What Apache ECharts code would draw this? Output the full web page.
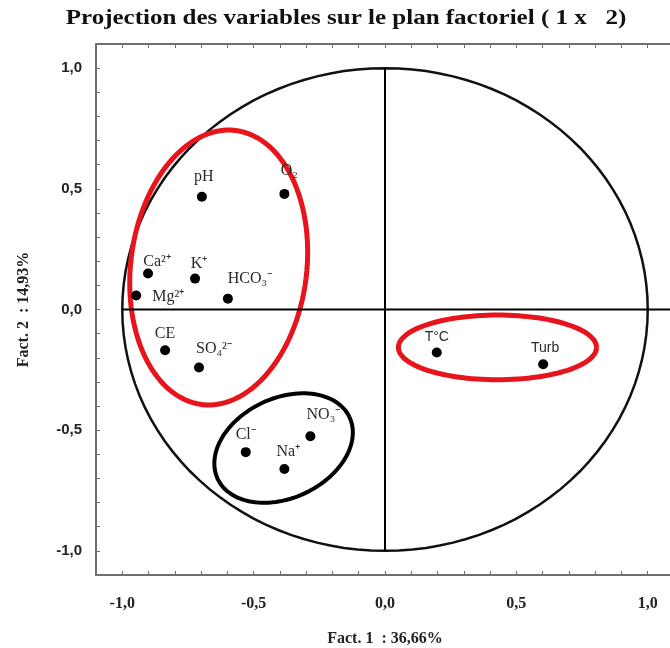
<!DOCTYPE html>
<html>
<head>
<meta charset="utf-8">
<script src="https://cdn.jsdelivr.net/npm/echarts@6/dist/echarts.min.js"></script>
<style>
  html, body { margin: 0; padding: 0; background: #fff; }
  #chart { width: 670px; height: 648px; }
</style>
</head>
<body>
<div id="chart"></div>
<script>
// variables projected on the factorial plane (1 x 2)
const variables = ['pH', 'O₂', 'Ca²⁺', 'K⁺', 'Mg²⁺', 'HCO₃⁻', 'CE', 'SO₄²⁻', 'Cl⁻', 'NO₃⁻', 'Na⁺', 'T°C', 'Turb'];
const fact1 = [-0.697, -0.383, -0.902, -0.723, -0.947, -0.598, -0.837, -0.708, -0.530, -0.284, -0.383, 0.197, 0.602];
const fact2 = [0.467, 0.479, 0.149, 0.128, 0.058, 0.045, -0.169, -0.240, -0.591, -0.525, -0.661, -0.178, -0.227];

// hand-drawn groupings: [centre x, centre y, radius x, radius y, tilt in degrees]
const groups = [
  [-0.633, 0.174, 0.335, 0.572, 7],
  [0.428, -0.157, 0.377, 0.134, 0],
  [-0.386, -0.574, 0.277, 0.207, -25]
];
const groupColors = ['#e8141b', '#e8141b', '#000'];
const correlationCircle = [[0, 0, 1, 1, 0]];

// label placement next to each dot (pixels)
const labelOffsets = [[2, -20], [5, -23], [9, -12], [4, -15], [32, 1], [22, -20], [0, -16],
  [15, -19], [0, -17], [13, -21], [4, -17], [0, -15], [2, -16]];

const chart = echarts.init(document.getElementById('chart'));

function fmt(v) {
  if (Math.abs(v * 2 - Math.round(v * 2)) > 1e-6) return '';
  if (Math.abs(v) < 1e-9) v = 0;
  return v.toFixed(1).replace('.', ',');
}

function ellipseItem(params, api) {
  const c = api.coord([api.value(0), api.value(1)]);
  const s = api.size([api.value(2), api.value(3)]);
  const a = api.value(4) * Math.PI / 180;
  const pts = [];
  for (let i = 0; i <= 120; i++) {
    const t = i / 120 * Math.PI * 2;
    const lx = s[0] * Math.cos(t), ly = s[1] * Math.sin(t);
    pts.push([c[0] + lx * Math.cos(a) - ly * Math.sin(a), c[1] + lx * Math.sin(a) + ly * Math.cos(a)]);
  }
  return pts;
}

const axisGray = '#6e6e6e';

chart.setOption({
  animation: false,
  graphic: [{
    type: 'text',
    x: 346, y: 19,
    scaleX: 1.25,
    style: {
      text: 'Projection des variables sur le plan factoriel ( 1 x   2)',
      font: 'bold 20px "Liberation Serif"',
      fill: '#111',
      align: 'center',
      verticalAlign: 'middle'
    }
  }],
  grid: { left: 96, top: 44, width: 578, height: 531, outerBoundsMode: 'none' },
  xAxis: [{
    type: 'value', min: -1.1, max: 1.1, interval: 0.1,
    name: 'Fact. 1  : 36,66%', nameLocation: 'middle', nameGap: 56,
    nameTextStyle: { fontFamily: 'Liberation Serif', fontWeight: 'bold', fontSize: 16, color: '#222' },
    axisLine: { onZero: false, lineStyle: { color: axisGray, width: 2 } },
    axisTick: { inside: true, length: 4, lineStyle: { color: axisGray } },
    axisLabel: { formatter: fmt, margin: 21, fontFamily: 'Liberation Serif', fontWeight: 'bold', fontSize: 16, color: '#222' },
    splitLine: { show: false }
  }, {
    type: 'value', position: 'top', min: -1.1, max: 1.1, interval: 0.1,
    axisLine: { onZero: false, lineStyle: { color: axisGray, width: 2 } },
    axisTick: { inside: true, length: 4, lineStyle: { color: axisGray } },
    axisLabel: { show: false },
    splitLine: { show: false }
  }],
  yAxis: {
    type: 'value', min: -1.1, max: 1.1, interval: 0.1,
    name: 'Fact. 2  : 14,93%', nameLocation: 'middle', nameGap: 64,
    nameTextStyle: { fontFamily: 'Liberation Serif', fontWeight: 'bold', fontSize: 16, color: '#222' },
    axisLine: { onZero: false, lineStyle: { color: axisGray, width: 2 } },
    axisTick: { inside: true, length: 4, lineStyle: { color: axisGray } },
    axisLabel: { formatter: fmt, margin: 14, fontFamily: 'Liberation Sans', fontWeight: 'bold', fontSize: 15, color: '#222' },
    splitLine: { show: false }
  },
  series: [
    {
      type: 'line', silent: true, symbol: 'none',
      data: [[0, -1], [0, 1]],
      lineStyle: { color: '#000', width: 2 }
    },
    {
      type: 'line', silent: true, symbol: 'none',
      data: [[-1, 0], [1.1, 0]],
      lineStyle: { color: '#000', width: 2 }
    },
    {
      type: 'custom', silent: true, coordinateSystem: 'cartesian2d',
      data: correlationCircle,
      renderItem: (params, api) => ({
        type: 'polyline',
        shape: { points: ellipseItem(params, api) },
        style: { stroke: '#111', lineWidth: 2.5, fill: null }
      })
    },
    {
      type: 'custom', silent: true, coordinateSystem: 'cartesian2d',
      data: groups,
      renderItem: (params, api) => ({
        type: 'polyline',
        shape: { points: ellipseItem(params, api) },
        style: { stroke: groupColors[params.dataIndex], lineWidth: params.dataIndex === 2 ? 4 : 5, fill: null }
      })
    },
    {
      type: 'scatter',
      symbolSize: 10,
      itemStyle: { color: '#000', opacity: 1 },
      data: variables.map((name, i) => ({
        name: name,
        value: [fact1[i], fact2[i]],
        label: {
          show: true,
          position: 'inside',
          offset: labelOffsets[i],
          formatter: '{b}',
          color: '#2a2a2a',
          fontFamily: i >= 11 ? 'Liberation Sans' : 'Liberation Serif',
          fontSize: i >= 11 ? 14 : 16
        }
      }))
    }
  ]
});
</script>
</body>
</html>
